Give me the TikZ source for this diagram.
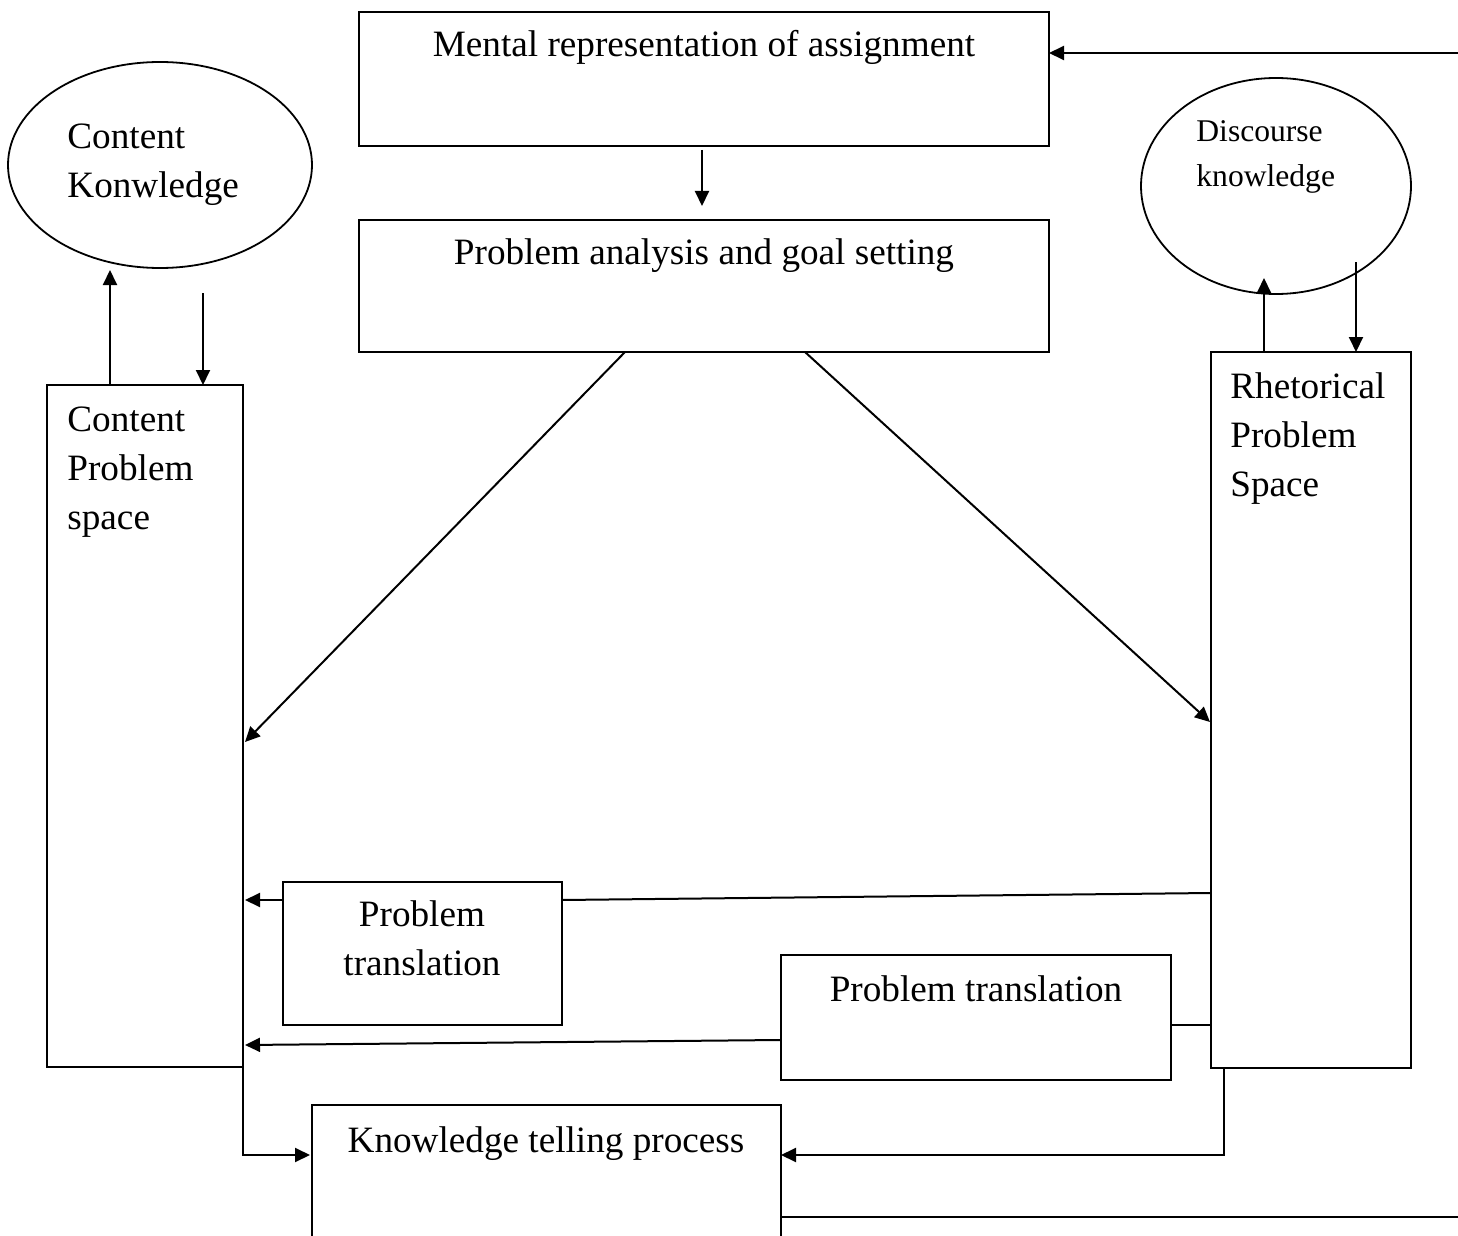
\documentclass[tikz,border=0pt]{standalone}
\usepackage{fontspec}
\setmainfont{Liberation Serif}
\usetikzlibrary{arrows.meta,calc,shapes.geometric}
\begin{document}
\begin{tikzpicture}[x=0.5pt,y=-0.5pt,
  box/.style={draw,line width=0.9pt,inner sep=0pt,outer sep=0pt},
  oval/.style={draw,ellipse,line width=0.9pt,inner sep=0pt,outer sep=0pt},
  arr/.style={line width=1pt,-{Triangle[length=7.5pt,width=7pt]}},
  link/.style={line width=1pt},
  big/.style={inner sep=0pt,font=\fontsize{18.6}{24.5}\selectfont},
  small/.style={inner sep=0pt,font=\fontsize{15.8}{22.5}\selectfont}]
\useasboundingbox (0,0) rectangle (1458,1236);
\clip (0,0) rectangle (1458,1236);

% boxes and ovals
\node[box,minimum width=690*0.5pt,minimum height=134*0.5pt] (mra) at (704,79) {};
\node[box,minimum width=690*0.5pt,minimum height=132*0.5pt] (pa) at (704,286) {};
\node[oval,minimum width=304*0.5pt,minimum height=206*0.5pt] (ck) at (160,165) {};
\node[box,minimum width=196*0.5pt,minimum height=682*0.5pt] (cps) at (145,726) {};
\node[oval,minimum width=270*0.5pt,minimum height=216*0.5pt] (dk) at (1276,186) {};
\node[box,minimum width=200*0.5pt,minimum height=716*0.5pt] (rps) at (1311,710) {};
\node[box,minimum width=279*0.5pt,minimum height=143*0.5pt] (pt1) at (422.5,953.5) {};
\node[box,minimum width=390*0.5pt,minimum height=125*0.5pt] (pt2) at (976,1017.5) {};
\node[box,minimum width=469*0.5pt,minimum height=155*0.5pt] (ktp) at (546.5,1182.5) {};

% texts (multi-line texts are anchored at the baseline of their last line)
\node[big,anchor=base] (tmra) at (704,57) {Mental representation of assignment};
\node[big,anchor=base] (tpa) at (704,264) {Problem analysis and goal setting};
\node[big,anchor=base west,align=left] (tck) at (67,198) {Content\\Konwledge};
\node[small,anchor=base west,align=left] (tdk) at (1196,187) {Discourse\\knowledge};
\node[big,anchor=base west,align=left] (tcps) at (67,529) {Content\\Problem\\space};
\node[big,anchor=base west,align=left] (trps) at (1230,496) {Rhetorical\\Problem\\Space};
\node[big,anchor=base,align=center] (tpt1) at (422,975) {Problem\\translation};
\node[big,anchor=base] (tpt2) at (976,1001) {Problem translation};
\node[big,anchor=base] (tktp) at (546,1152) {Knowledge telling process};

% free ends at the right margin
\coordinate (inR) at (1458,53);
\coordinate (outR) at (1458,1217);

% connectors
\draw[arr] (inR) -- (inR -| mra.east);
\draw[arr] ($(mra.south)+(-2,4)$) -- ($(pa.north)+(-2,-14)$);
\draw[arr] ($(pa.south west)+(266,0)$) -- ($(cps.north east)+(2,357)$);
\draw[arr] ($(pa.south west)+(446,0)$) -- ($(rps.north west)+(-1,370)$);
\draw[arr] ($(cps.north west)+(63,0)$) -- ($(cps.north west)+(63,-115)$);
\draw[arr] ($(cps.north west)+(156,-92)$) -- ($(cps.north west)+(156,0)$);
\draw[arr] ($(rps.north west)+(53,0)$) -- ($(rps.north west)+(53,-74)$);
\draw[arr] ($(rps.north west)+(145,-90)$) -- ($(rps.north west)+(145,0)$);
\draw[link] ($(rps.north west)+(0,541)$) -- ($(pt1.north east)+(0,18)$);
\draw[arr] ($(pt1.north west)+(0,18)$) -- ($(cps.north east)+(2,515)$);
\draw[link] ($(pt2.north east)+(0,70)$) -- ($(rps.north west)+(0,673)$);
\draw[arr] ($(pt2.north west)+(0,85)$) -- ($(cps.north east)+(2,660)$);
\draw[arr] (cps.south east) |- ($(ktp.north west)+(-2,50)$);
\draw[arr] ($(rps.south west)+(13,0)$) |- ($(ktp.north east)+(0,50)$);
\draw[link] ($(ktp.north east)+(0,112)$) -- (outR);
\end{tikzpicture}
\end{document}
